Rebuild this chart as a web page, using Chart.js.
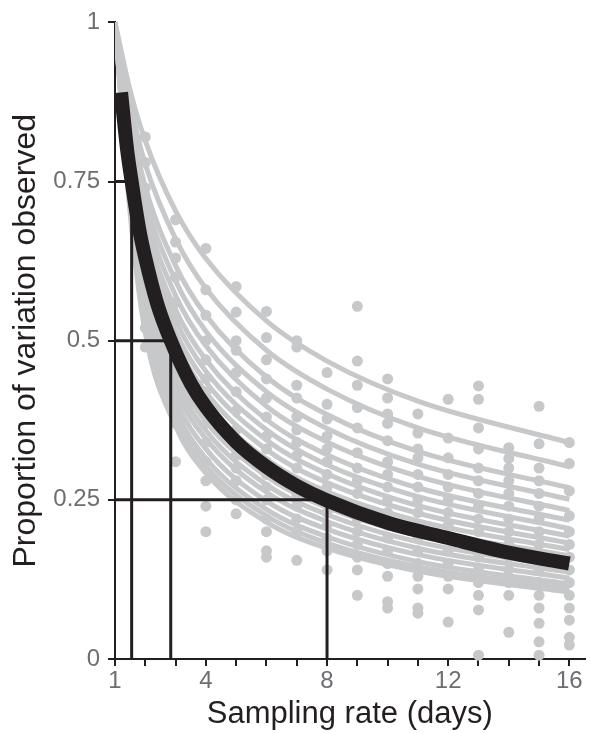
<!DOCTYPE html>
<html>
<head>
<meta charset="utf-8">
<script src="https://cdn.jsdelivr.net/npm/chart.js@4"></script>
<style>
  html, body { margin: 0; padding: 0; background: #fff; }
  canvas { display: block; }
</style>
</head>
<body>
<canvas id="chart" width="590" height="733"></canvas>
<script>
// axis ticks
const xTicks = [1, 2, 3, 4, 5, 6, 7, 8, 9, 10, 11, 12, 13, 14, 15, 16];
const xTickLabels = [1, 4, 8, 12, 16];
const yTicks = [0, 0.25, 0.5, 0.75, 1];

// fitted curves of the individual series (gray)
const curveX = [1, 1.5, 2, 3, 4, 6, 8, 11, 16];
const grayCurves = [
  [1, 0.893, 0.814, 0.704, 0.629, 0.531, 0.468, 0.405, 0.340],
  [1, 0.872, 0.777, 0.660, 0.582, 0.485, 0.424, 0.363, 0.302],
  [1, 0.850, 0.742, 0.618, 0.540, 0.443, 0.384, 0.326, 0.269],
  [1, 0.839, 0.722, 0.594, 0.515, 0.420, 0.362, 0.306, 0.251],
  [1, 0.826, 0.702, 0.571, 0.492, 0.397, 0.341, 0.287, 0.233],
  [1, 0.814, 0.682, 0.549, 0.470, 0.376, 0.321, 0.269, 0.218],
  [1, 0.804, 0.667, 0.532, 0.452, 0.360, 0.305, 0.255, 0.205],
  [1, 0.795, 0.652, 0.514, 0.435, 0.344, 0.291, 0.241, 0.193],
  [1, 0.785, 0.637, 0.498, 0.419, 0.329, 0.277, 0.229, 0.182],
  [1, 0.775, 0.622, 0.482, 0.403, 0.314, 0.263, 0.217, 0.172],
  [1, 0.766, 0.608, 0.466, 0.388, 0.300, 0.251, 0.205, 0.162],
  [1, 0.757, 0.594, 0.451, 0.373, 0.287, 0.238, 0.194, 0.153],
  [1, 0.748, 0.580, 0.437, 0.359, 0.274, 0.227, 0.184, 0.144],
  [1, 0.739, 0.567, 0.423, 0.346, 0.262, 0.216, 0.174, 0.136],
  [1, 0.728, 0.552, 0.407, 0.330, 0.248, 0.204, 0.164, 0.127],
  [1, 0.717, 0.536, 0.391, 0.315, 0.235, 0.192, 0.153, 0.118],
  [1, 0.708, 0.524, 0.378, 0.303, 0.225, 0.182, 0.145, 0.111],
  [1, 0.700, 0.512, 0.366, 0.292, 0.215, 0.174, 0.138, 0.105],
];

// observed points, one list per sampling rate
const dotX = [2, 3, 4, 5, 6, 7, 8, 9, 10, 11, 12, 13, 14, 15, 16];
const dotY = [
  [0.82, 0.78, 0.74, 0.70, 0.66, 0.62, 0.58, 0.55, 0.52, 0.49],
  [0.69, 0.655, 0.63, 0.60, 0.56, 0.53, 0.50, 0.47, 0.44, 0.41, 0.37, 0.31],
  [0.645, 0.58, 0.54, 0.50, 0.47, 0.44, 0.42, 0.40, 0.37, 0.34, 0.31, 0.28, 0.24, 0.20],
  [0.585, 0.545, 0.50, 0.485, 0.45, 0.42, 0.39, 0.36, 0.34, 0.32, 0.30, 0.28, 0.25, 0.228],
  [0.546, 0.505, 0.47, 0.44, 0.41, 0.38, 0.35, 0.33, 0.31, 0.29, 0.27, 0.25, 0.22, 0.20, 0.17, 0.16],
  [0.50, 0.49, 0.43, 0.41, 0.38, 0.36, 0.34, 0.32, 0.30, 0.28, 0.26, 0.24, 0.22, 0.20, 0.155],
  [0.45, 0.40, 0.377, 0.35, 0.33, 0.31, 0.29, 0.27, 0.25, 0.23, 0.21, 0.19, 0.17, 0.14],
  [0.554, 0.468, 0.43, 0.395, 0.363, 0.324, 0.30, 0.28, 0.26, 0.24, 0.22, 0.20, 0.18, 0.16, 0.14, 0.10],
  [0.44, 0.41, 0.385, 0.37, 0.343, 0.31, 0.29, 0.27, 0.25, 0.23, 0.21, 0.19, 0.17, 0.15, 0.13, 0.09, 0.08],
  [0.385, 0.355, 0.33, 0.316, 0.29, 0.27, 0.25, 0.23, 0.21, 0.19, 0.17, 0.15, 0.13, 0.11, 0.08, 0.072],
  [0.408, 0.347, 0.316, 0.29, 0.27, 0.25, 0.23, 0.21, 0.19, 0.17, 0.15, 0.13, 0.11, 0.058],
  [0.429, 0.408, 0.363, 0.33, 0.30, 0.28, 0.26, 0.24, 0.22, 0.20, 0.18, 0.16, 0.14, 0.12, 0.10, 0.077, 0.006],
  [0.332, 0.315, 0.30, 0.28, 0.26, 0.24, 0.22, 0.20, 0.18, 0.16, 0.14, 0.12, 0.10, 0.042],
  [0.397, 0.338, 0.30, 0.28, 0.26, 0.24, 0.22, 0.20, 0.18, 0.16, 0.14, 0.12, 0.10, 0.08, 0.056, 0.027, 0.006],
  [0.34, 0.307, 0.264, 0.225, 0.20, 0.18, 0.16, 0.14, 0.12, 0.10, 0.08, 0.061, 0.034, 0.022],
];

// overall fit (black)
const meanX = [1.2, 1.4, 1.55, 1.8, 2, 2.4, 2.84, 3.5, 4, 5, 6, 7, 8, 10, 12, 14, 16];
const meanY = [0.89, 0.80, 0.75, 0.675, 0.63, 0.557, 0.50, 0.433, 0.396, 0.341, 0.302, 0.272, 0.249, 0.214, 0.19, 0.167, 0.15];

// guide lines at 75 %, 50 % and 25 %
const guideX = [1.55, 2.84, 8];
const guideY = [0.75, 0.5, 0.25];

const GRAY = "#c7c8ca";
const BLACK = "#231f20";
const TICK_GRAY = "#6d6e71";
const FONT = "'Liberation Sans', Arial, sans-serif";

// higher "order" is drawn first (underneath)
const datasets = [];

grayCurves.forEach((ys) => {
  datasets.push({
    data: curveX.map((x, i) => ({ x, y: ys[i] })),
    order: 4,
    showLine: true,
    borderColor: GRAY,
    borderWidth: 5,
    pointRadius: 0,
    cubicInterpolationMode: "monotone",
    clip: { left: 0, top: 5, right: 5, bottom: 5 },
  });
});

const dots = [];
dotX.forEach((x, i) => {
  dotY[i].forEach((y) => dots.push({ x, y }));
});
datasets.push({
  data: dots,
  order: 3,
  showLine: false,
  pointRadius: 5.5,
  pointBackgroundColor: GRAY,
  pointBorderWidth: 0,
  clip: 10,
});

guideX.forEach((gx, i) => {
  datasets.push({
    data: [{ x: 1, y: guideY[i] }, { x: gx, y: guideY[i] }, { x: gx, y: 0 }],
    order: 2,
    showLine: true,
    borderColor: BLACK,
    borderWidth: 3,
    pointRadius: 0,
    tension: 0,
  });
});

datasets.push({
  data: meanX.map((x, i) => ({ x, y: meanY[i] })),
  order: 1,
  showLine: true,
  borderColor: BLACK,
  borderWidth: 14,
  borderCapStyle: "butt",
  pointRadius: 0,
  cubicInterpolationMode: "monotone",
  clip: { left: 0, top: 10, right: 10, bottom: 10 },
});

new Chart(document.getElementById("chart"), {
  type: "scatter",
  data: { datasets },
  options: {
    responsive: false,
    animation: false,
    devicePixelRatio: 1,
    layout: { padding: { top: 20, right: 2, left: 0, bottom: 0 } },
    plugins: {
      legend: { display: false },
      tooltip: { enabled: false },
    },
    scales: {
      x: {
        type: "linear",
        min: 1,
        max: 16.5,
        afterBuildTicks: (scale) => {
          scale.ticks = xTicks.map((v) => ({ value: v }));
        },
        afterFit: (scale) => { scale.height = 74; },
        ticks: {
          color: TICK_GRAY,
          font: { family: FONT, size: 24 },
          padding: 1,
          maxRotation: 0,
          autoSkip: false,
          callback: (v) => (xTickLabels.includes(v) ? String(v) : ""),
        },
        grid: {
          display: true,
          drawOnChartArea: false,
          drawTicks: true,
          tickLength: 7,
          color: BLACK,
          lineWidth: 2,
        },
        border: { display: true, color: BLACK, width: 2 },
        title: {
          display: true,
          text: "Sampling rate (days)",
          color: BLACK,
          font: { family: FONT, size: 31 },
          padding: { top: 0, bottom: 0 },
        },
      },
      y: {
        type: "linear",
        min: 0,
        max: 1,
        afterBuildTicks: (scale) => {
          scale.ticks = yTicks.map((v) => ({ value: v }));
        },
        afterFit: (scale) => { scale.width = 115; },
        ticks: {
          color: TICK_GRAY,
          font: { family: FONT, size: 24 },
          padding: 8,
          callback: (v) => String(v),
        },
        grid: {
          display: true,
          drawOnChartArea: false,
          drawTicks: true,
          tickLength: 7,
          color: BLACK,
          lineWidth: 2,
        },
        border: { display: true, color: BLACK, width: 2 },
        title: {
          display: true,
          text: "Proportion of variation observed",
          color: BLACK,
          font: { family: FONT, size: 32 },
          padding: { top: 7, bottom: 0 },
        },
      },
    },
  },
});
</script>
</body>
</html>
